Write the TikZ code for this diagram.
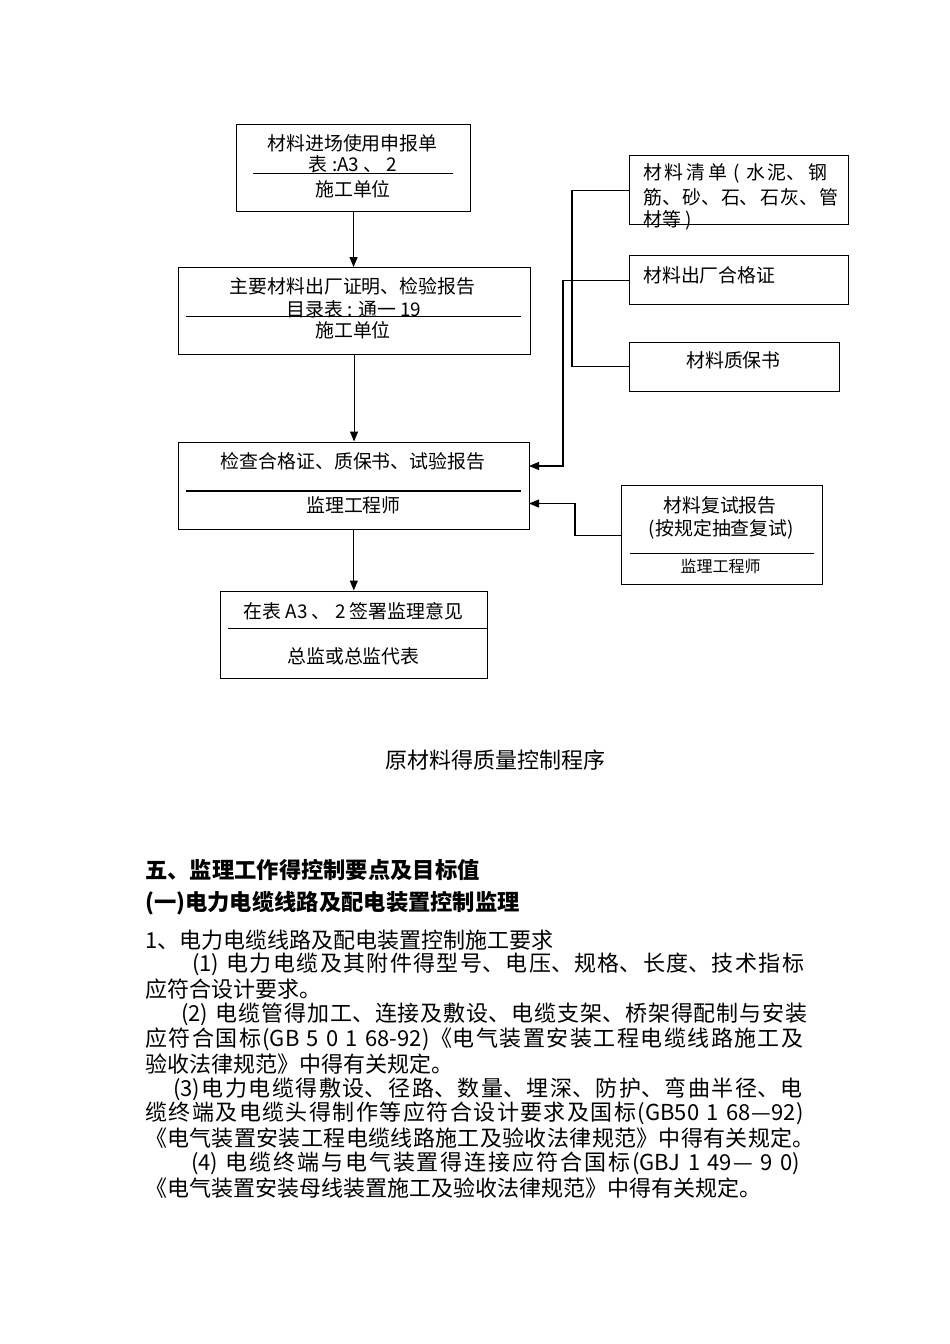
\documentclass[tikz,border=0pt]{standalone}
\usepackage{fontspec}
\setmainfont{Noto Sans CJK SC}
\usetikzlibrary{arrows.meta}
\XeTeXlinebreaklocale "zh"
\XeTeXlinebreakskip=0pt plus 6pt minus 0.8pt
\tolerance=10000
\hbadness=10000
\hfuzz=20pt
\tikzset{
  box/.style={draw, line width=1.1pt, inner sep=0pt, anchor=north west},
  ln/.style={line width=1.1pt},
  arr/.style={line width=1.1pt, -{Triangle[length=10pt,width=8pt]}},
  bt/.style={inner sep=0pt, font=\fontsize{18.9}{23}\selectfont},
  bts/.style={inner sep=0pt, font=\fontsize{16}{19}\selectfont},
  body/.style={inner sep=0pt, anchor=west, font=\fontsize{22}{26}\selectfont},
  jbody/.style={body, text width=#1},
  head/.style={inner sep=0pt, anchor=west, font=\bfseries\fontsize{#1}{26}\selectfont},
}
\begin{document}
\begin{tikzpicture}[x=1pt,y=-1pt]
\useasboundingbox (0,0) rectangle (950,1344);
% boxes
\node[box, minimum width=234pt, minimum height=87pt] (b1) at (236,124) {};
\node[box, minimum width=352pt, minimum height=86.5pt] (b2) at (177.5,267) {};
\node[box, minimum width=351.5pt, minimum height=87pt] (b3) at (177.5,441.5) {};
\node[box, minimum width=267pt, minimum height=87pt] (b4) at (220,590.5) {};
\node[box, minimum width=201pt, minimum height=99pt] (b5) at (621,485) {};
\node[box, minimum width=219pt, minimum height=69pt] (b6) at (629,155) {};
\node[box, minimum width=219pt, minimum height=49pt] (b7) at (629,255) {};
\node[box, minimum width=210pt, minimum height=49.5pt] (b8) at (629,341.5) {};
% dividers
\draw[ln] (253,173.3) -- (453,173.3);
\draw[ln] (186,316.7) -- (521,316.7);
\draw[ln] (186,491) -- (521,491);
\draw[ln] (228,628.3) -- (487,628.3);
\draw[ln] (630,553.3) -- (814,553.3);
% box texts
\node[bt] (t11) at (352.5,143) {材料进场使用申报单};
\node[bt] (t12) at (353,164.5) {表 :A3 、 2};
\node[bt] (t13) at (353,189) {施工单位};
\node[bt] (t21) at (352.5,286.5) {主要材料出厂证明、检验报告};
\node[bt] (t22) at (354,309) {目录表 : 通一 19};
\node[bt] (t23) at (353,330) {施工单位};
\node[bt] (t31) at (353,461.5) {检查合格证、质保书、试验报告};
\node[bt] (t32) at (353.5,505) {监理工程师};
\node[bt] (t41) at (353.5,611) {在表 A3 、 2 签署监理意见};
\node[bt] (t42) at (353.5,656.5) {总监或总监代表};
\node[bt] (t51) at (720,505) {材料复试报告};
\node[bt] (t52) at (721.5,529) {(按规定抽查复试)};
\node[bts] (t53) at (720.5,566.5) {监理工程师};
\node[bt, anchor=west, text width=202pt] (t61) at (643,173) {\parfillskip=0pt 材料清单 ( 水泥、钢\par};
\node[bt, anchor=west, text width=202pt] (t62) at (643,197.5) {\parfillskip=0pt 筋、砂、石、石灰、管\par};
\node[bt, anchor=west] (t63) at (643,220) {材等 )};
\node[bt, anchor=west] (t71) at (643,275) {材料出厂合格证};
\node[bt] (t81) at (733.5,360) {材料质保书};
% connectors
\draw[arr] (b1.south) -- (b1.south |- b2.north);
\draw[arr] (b2.south) -- (b2.south |- b3.north);
\draw[arr] (b3.south) -- (b3.south |- b4.north);
\draw[ln] (b6.west) -- ++(-57,0) |- (b8.west);
\coordinate (in1) at (529,466);
\coordinate (in2) at (529,503.5);
\draw[arr] (b7.west) -- ++(-66,0) |- (in1);
\draw[arr] (b5.west) -- ++(-46,0) |- (in2);
% caption
\node[inner sep=0pt, font=\fontsize{22}{26}\selectfont] (cap) at (495,760) {原材料得质量控制程序};
% headings
\node[head=22.3] (h1) at (145,870) {五、监理工作得控制要点及目标值};
\node[head=22.3] (h2) at (145,903) {(一)电力电缆线路及配电装置控制监理};
% body
\node[body] (p1) at (145,940) {1、电力电缆线路及配电装置控制施工要求};
\node[jbody=622pt] (p2) at (192,964.8) {\parfillskip=0pt (1) 电力电缆及其附件得型号、电压、规格、长度、技术指标\par};
\node[body] (p3) at (145,989.6) {应符合设计要求。};
\node[jbody=633pt] (p4) at (181,1014.4) {\parfillskip=0pt (2) 电缆管得加工、连接及敷设、电缆支架、桥架得配制与安装\par};
\node[jbody=669pt] (p5) at (145,1039.2) {\parfillskip=0pt 应符合国标(GB 5 0 1 68-92)《电气装置安装工程电缆线路施工及\par};
\node[body] (p6) at (145,1064) {验收法律规范》中得有关规定。};
\node[jbody=641pt] (p7) at (173,1088.8) {\parfillskip=0pt (3)电力电缆得敷设、径路、数量、埋深、防护、弯曲半径、电\par};
\node[jbody=669pt] (p8) at (145,1113.6) {\parfillskip=0pt 缆终端及电缆头得制作等应符合设计要求及国标(GB50 1 68—92)\par};
\node[jbody=672pt] (p9) at (145,1138.4) {\parfillskip=0pt 《电气装置安装工程电缆线路施工及验收法律规范》中得有关规定。\par};
\node[jbody=623pt] (p10) at (191,1163.2) {\parfillskip=0pt (4) 电缆终端与电气装置得连接应符合国标(GBJ 1 49— 9 0)\par};
\node[body] (p11) at (145,1188) {《电气装置安装母线装置施工及验收法律规范》中得有关规定。};
\end{tikzpicture}
\end{document}
